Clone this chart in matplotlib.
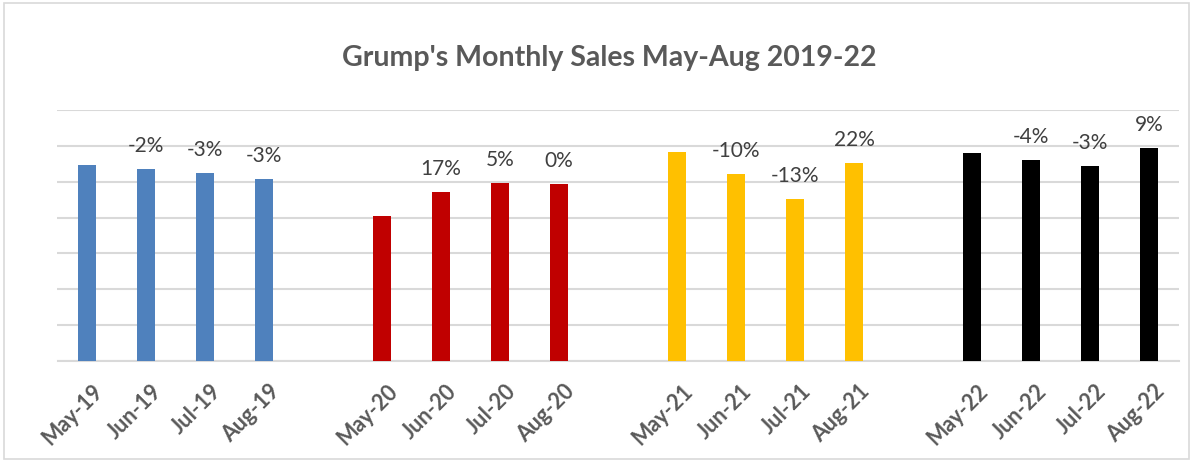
import matplotlib
matplotlib.use("Agg")
import matplotlib.pyplot as plt
from matplotlib.patches import Rectangle
from matplotlib.transforms import ScaledTranslation

# ---- data ----
months = ["May", "Jun", "Jul", "Aug"]
years = ["19", "20", "21", "22"]
sales_2019 = [5.46, 5.35, 5.24, 5.07]
sales_2020 = [4.04, 4.71, 4.96, 4.93]
sales_2021 = [5.82, 5.21, 4.51, 5.52]
sales_2022 = [5.79, 5.60, 5.43, 5.93]
change_2019 = ["", "-2%", "-3%", "-3%"]
change_2020 = ["", "17%", "5%", "0%"]
change_2021 = ["", "-10%", "-13%", "22%"]
change_2022 = ["", "-4%", "-3%", "9%"]
colors = ["#4F81BD", "#C00000", "#FFC000", "#000000"]

series = [sales_2019, sales_2020, sales_2021, sales_2022]
changes = [change_2019, change_2020, change_2021, change_2022]

W, H = 1193, 461
fig = plt.figure(figsize=(W / 100, H / 100), dpi=100)
ax = fig.add_axes([57.5 / W, 1 - 361 / H, (1178.5 - 57.5) / W, (361 - 110) / H])

FONT = "Lato"
positions, labels = [], []
slot = 0
for g, (vals, chg, col) in enumerate(zip(series, changes, colors)):
    xs = [slot + i for i in range(len(vals))]
    ax.bar(xs, vals, width=0.31, color=col, zorder=3)
    for x, v, t in zip(xs, vals, chg):
        if t:
            ax.annotate(t, (x, v), xytext=(0, 9.5), textcoords="offset points",
                        ha="center", va="bottom", fontsize=15, color="#404040",
                        family=FONT)
    positions += xs
    labels += [f"{m}-{years[g]}" for m in months]
    slot += len(vals) + 1

ax.set_xlim(-0.5, slot - 1 - 0.5)
ax.set_ylim(0, 7)
ax.set_yticks(range(0, 8))
ax.yaxis.grid(True, color="#d9d9d9", linewidth=1.5, zorder=0)
ax.tick_params(axis="y", left=False, labelleft=False)
ax.set_xticks(positions)
ax.set_xticklabels(labels, rotation=45, ha="right", rotation_mode="anchor",
                   fontsize=15.5, fontweight="bold", color="#595959", family=FONT)
ax.tick_params(axis="x", length=0, pad=14)
shift = ScaledTranslation(5 / 100, 0, fig.dpi_scale_trans)
for lab in ax.get_xticklabels():
    lab.set_transform(lab.get_transform() + shift)
for s in ["top", "right", "left"]:
    ax.spines[s].set_visible(False)
ax.spines["bottom"].set_color("#d9d9d9")
ax.spines["bottom"].set_linewidth(1.5)

fig.text(609 / W, 1 - 66 / H, "Grump's Monthly Sales May-Aug 2019-22",
         ha="center", va="baseline", fontsize=20.5, fontweight="bold",
         color="#595959", family=FONT)

fig.patches.append(Rectangle((4 / W, 2 / H), (W - 8) / W, (H - 5) / H,
                             transform=fig.transFigure, fill=False,
                             edgecolor="#d9d9d9", linewidth=1.2))

fig.savefig("out.png", dpi=100)
